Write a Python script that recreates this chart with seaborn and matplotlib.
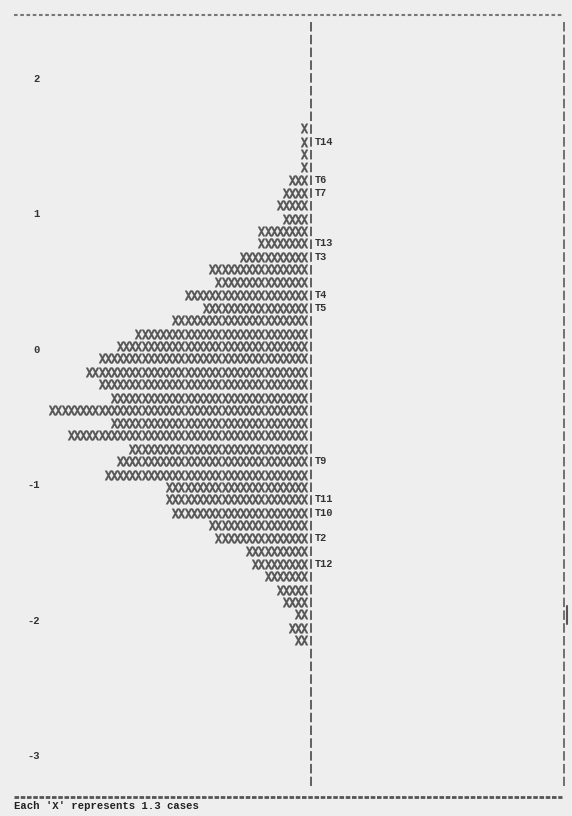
import numpy as np
import pandas as pd
import matplotlib
matplotlib.use("Agg")
import matplotlib.pyplot as plt
import seaborn as sns
from matplotlib.textpath import TextPath
from matplotlib.font_manager import FontProperties
from matplotlib.path import Path
from matplotlib.lines import Line2D

# ---------------- data ----------------
# logit value of each text row of the map (top to bottom)
row_logits = [1.72, 1.63, 1.53, 1.44, 1.34, 1.25, 1.15, 1.06, 0.96, 0.87,
              0.78, 0.68, 0.59, 0.49, 0.40, 0.30, 0.21, 0.11, 0.02, -0.07,
              -0.17, -0.26, -0.36, -0.45, -0.55, -0.64, -0.74, -0.83, -0.93, -1.02,
              -1.11, -1.21, -1.30, -1.40, -1.49, -1.59, -1.68, -1.78, -1.87, -1.96,
              -2.06, -2.15, -2.25]
# number of 'X' characters (persons) on each row
x_counts = [0, 1, 1, 1, 1, 3, 4, 5, 4, 8,
            8, 11, 16, 15, 20, 17, 22, 28, 31, 34,
            36, 34, 32, 42, 32, 39, 29, 31, 33, 23,
            23, 22, 16, 15, 10, 9, 7, 5, 4, 2,
            3, 2, 0]
# items located on rows
item_rows = [2, 5, 6, 10, 11, 14, 15, 27, 30, 31, 33, 35]
item_names = ["T14", "T6", "T7", "T13", "T3", "T4", "T5", "T9", "T11", "T10", "T2", "T12"]
tick_values = [2, 1, 0, -1, -2, -3]
tick_labels = ["2", "1", "0", "-1", "-2", "-3"]
footer = "Each 'X' represents 1.3 cases"

# ---------------- style ----------------
BG = "#eeeeee"
INK = "#555555"
sns.set_theme(style="white")
plt.rcParams["font.family"] = ["Liberation Mono", "DejaVu Sans Mono"]
plt.rcParams["lines.scale_dashes"] = False

records = [(c, L) for L, n in zip(row_logits, x_counts) for c in range(1, n + 1)]
df = pd.DataFrame(records, columns=["col", "logit"])

fig = plt.figure(figsize=(5.72, 8.16), dpi=100, facecolor=BG)
ax = fig.add_axes([44 / 572, 0, 528 / 572, 1])
ax.set_facecolor(BG)

# custom 'X' glyph marker
tp = TextPath((0, 0), "X", prop=FontProperties(family="DejaVu Sans Mono", weight="bold"), size=1)
ext = tp.get_extents()
verts = tp.vertices.copy()
verts[:, 0] -= (ext.x0 + ext.x1) / 2
verts[:, 1] -= (ext.y0 + ext.y1) / 2
w, h = ext.width, ext.height
verts[:, 0] *= 0.74 * h / w
xmark = Path(verts, tp.codes)

sns.scatterplot(data=df, x="col", y="logit", marker=xmark, s=46, color=INK,
                edgecolor=INK, linewidth=0.25, ax=ax, legend=False)

ax.set_xlim(43.35, -42.5)
ax.set_ylim(-3.4505, 2.576)

# separator column and right border (dashed, one dash per text row)
dash = (0, (6.84, 2.37))
ax.plot([0, 0], [2.416, -3.227], color=INK, lw=1.3, ls=dash)
ax.plot([-41.2, -41.2], [2.416, -3.227], color="#666666", lw=1.3, ls=dash)
ax.plot([-41.75, -41.75], [-1.90, -2.03], color="#555555", lw=1.5)

# item labels
for r, name in zip(item_rows, item_names):
    ax.text(-0.75, row_logits[r], name, ha="left", va="center", fontsize=7.4,
            color="#333333", fontweight="bold")

ax.set_yticks(tick_values)
ax.set_yticklabels(tick_labels)
ax.tick_params(axis="y", length=0, pad=3, labelsize=7.6, labelcolor="#333333")
for lab in ax.get_yticklabels():
    lab.set_fontweight("bold")
ax.set_xticks([])
ax.set_xlabel("")
ax.set_ylabel("")
for sp in ax.spines.values():
    sp.set_visible(False)

# top and bottom dashed rules
fig.add_artist(Line2D([14 / 572, 562 / 572], [1 - 15 / 816] * 2, transform=fig.transFigure,
                      color="#777777", lw=1.5, ls=(0, (2.6, 1.9))))
fig.add_artist(Line2D([14 / 572, 562 / 572], [1 - 797 / 816] * 2, transform=fig.transFigure,
                      color="#555555", lw=2.0, ls=(0, (3.3, 1.2))))

fig.text(14 / 572, 1 - 806 / 816, footer, ha="left", va="center", fontsize=7.7,
         color="#222222", fontweight="bold")

fig.savefig("out.png", dpi=100, facecolor=BG)
